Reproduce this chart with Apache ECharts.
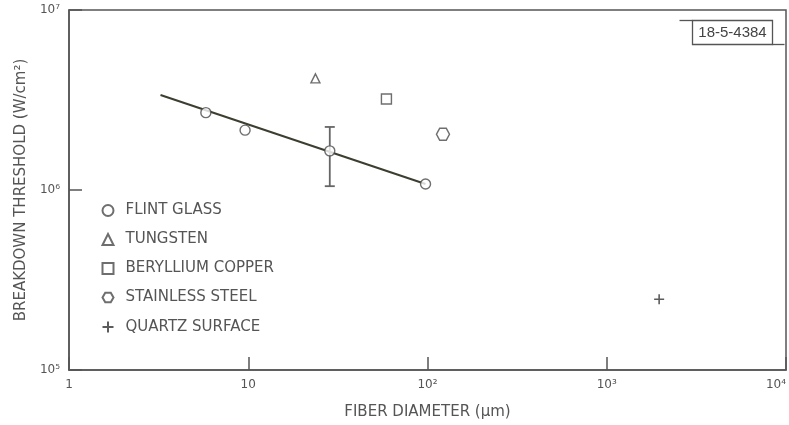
<!DOCTYPE html>
<html>
<head>
<meta charset="utf-8">
<script src="https://cdn.jsdelivr.net/npm/echarts@6/dist/echarts.min.js"></script>
<style>html,body{margin:0;padding:0;background:#fff}#c{width:789px;height:425px}</style>
</head>
<body>
<div id="c"></div>
<script>
// ---- data ----
const flintGlass = [[5.8, 2.69e6], [9.6, 2.15e6], [28.5, 1.65e6], [97.5, 1.08e6]];
const tungsten = [[23.7, 4.17e6]];
const berylliumCopper = [[59, 3.2e6]];
const stainlessSteel = [[122, 2.04e6]];
const quartzSurface = [[1960, 2.47e5]];
const fitLine = [[3.24, 3.37e6], [97.5, 1.08e6]];
const errorBars = [[28.5, 1.05e6, 2.24e6]];
const seriesNames = ['FLINT GLASS', 'TUNGSTEN', 'BERYLLIUM COPPER', 'STAINLESS STEEL', 'QUARTZ SURFACE'];
const xAxisTitle = 'FIBER DIAMETER (μm)';
const yAxisTitle = 'BREAKDOWN THRESHOLD (W/cm²)';
const figureId = '18-5-4384';

const SUP = {'0':'⁰','1':'¹','2':'²','3':'³','4':'⁴','5':'⁵','6':'⁶','7':'⁷','8':'⁸','9':'⁹'};
function powLabel(v) {
  const e = Math.round(Math.log10(v));
  if (e === 0) return '1';
  if (e === 1) return '10';
  return '10' + String(e).split('').map(c => SUP[c]).join('');
}

const INK = '#555';
const FONT = 'DejaVu Sans';
const hexPath = 'path://M3,0L9,0L12,5.2L9,10.4L3,10.4L0,5.2Z';
const plusPath = 'path://M5,0L5,10M0,5L10,5';

const markerStyle = {color: '#fff', borderColor: '#4a4a4a', borderWidth: 1.4};

const chart = echarts.init(document.getElementById('c'));
chart.setOption({
  backgroundColor: '#fff',
  animation: false,
  grid: {left: 69, right: 3, top: 10, bottom: 55, outerBoundsMode: 'none', containLabel: false,
         show: true, borderColor: INK, borderWidth: 1.5, backgroundColor: 'transparent'},
  xAxis: {
    type: 'log', logBase: 10, min: 1, max: 10000,
    name: xAxisTitle, nameLocation: 'middle', nameGap: 35,
    nameTextStyle: {fontFamily: FONT, fontSize: 15, color: INK},
    axisLine: {lineStyle: {color: INK, width: 1.5}},
    axisTick: {inside: true, length: 13, lineStyle: {color: INK, width: 1.5}},
    minorTick: {show: false},
    splitLine: {show: false},
    axisLabel: {formatter: powLabel, fontFamily: FONT, fontSize: 12, color: INK, margin: 9,
                showMinLabel: true, showMaxLabel: true, alignMaxLabel: 'right'}
  },
  yAxis: {
    type: 'log', logBase: 10, min: 1e5, max: 1e7,
    name: yAxisTitle, nameLocation: 'middle', nameGap: 39, nameRotate: 90,
    nameTextStyle: {fontFamily: FONT, fontSize: 15, color: INK},
    axisLine: {lineStyle: {color: INK, width: 1.5}},
    axisTick: {inside: true, length: 13, lineStyle: {color: INK, width: 1.5}},
    splitLine: {show: false},
    axisLabel: {formatter: powLabel, fontFamily: FONT, fontSize: 12, color: INK, margin: 9}
  },
  legend: {
    orient: 'vertical', left: 95, top: 198,
    itemWidth: 11, itemHeight: 11, itemGap: 14,
    textStyle: {fontFamily: FONT, fontSize: 15, lineHeight: 15, color: INK, padding: [0, 0, 0, 7]},
    data: seriesNames
  },
  series: [
    {type: 'line', data: fitLine, symbol: 'none', z: 1, silent: true,
     lineStyle: {color: '#3d3d30', width: 2}},
    {type: 'custom', data: errorBars, z: 2, silent: true,
     encode: {x: 0, y: [1, 2]},
     renderItem: function (params, api) {
       const lo = api.coord([api.value(0), api.value(1)]);
       const hi = api.coord([api.value(0), api.value(2)]);
       const st = {stroke: '#666', lineWidth: 1.8};
       return {type: 'group', children: [
         {type: 'line', shape: {x1: lo[0], y1: lo[1], x2: hi[0], y2: hi[1]}, style: st},
         {type: 'line', shape: {x1: lo[0] - 5, y1: lo[1], x2: lo[0] + 5, y2: lo[1]}, style: st},
         {type: 'line', shape: {x1: hi[0] - 5, y1: hi[1], x2: hi[0] + 5, y2: hi[1]}, style: st}
       ]};
     }},
    {name: seriesNames[0], type: 'scatter', data: flintGlass, symbol: 'circle', symbolSize: 10, z: 3, itemStyle: markerStyle},
    {name: seriesNames[1], type: 'scatter', data: tungsten, symbol: 'triangle', symbolSize: 9, z: 3, itemStyle: markerStyle},
    {name: seriesNames[2], type: 'scatter', data: berylliumCopper, symbol: 'rect', symbolSize: 10, z: 3, itemStyle: markerStyle},
    {name: seriesNames[3], type: 'scatter', data: stainlessSteel, symbol: hexPath, symbolSize: [13, 12], z: 3, itemStyle: markerStyle},
    {name: seriesNames[4], type: 'scatter', data: quartzSurface, symbol: plusPath, symbolSize: 10, z: 3,
     itemStyle: {color: 'none', borderColor: '#333', borderWidth: 1.6}}
  ],
  graphic: [
    {type: 'group', left: 677, top: 18, children: [
      {type: 'rect', shape: {x: 13, y: 0, width: 80, height: 24}, style: {fill: '#fff', stroke: INK, lineWidth: 1.3}},
      {type: 'line', shape: {x1: 0, y1: 0, x2: 13, y2: 0}, style: {stroke: INK, lineWidth: 1.3}},
      {type: 'line', shape: {x1: 93, y1: 24, x2: 105, y2: 24}, style: {stroke: INK, lineWidth: 1.3}},
      {type: 'text', x: 53, y: 12, style: {text: figureId, fill: '#444', fontFamily: 'Liberation Sans Narrow, Liberation Sans', fontSize: 15, align: 'center', verticalAlign: 'middle'}}
    ]}
  ]
});
</script>
</body>
</html>
